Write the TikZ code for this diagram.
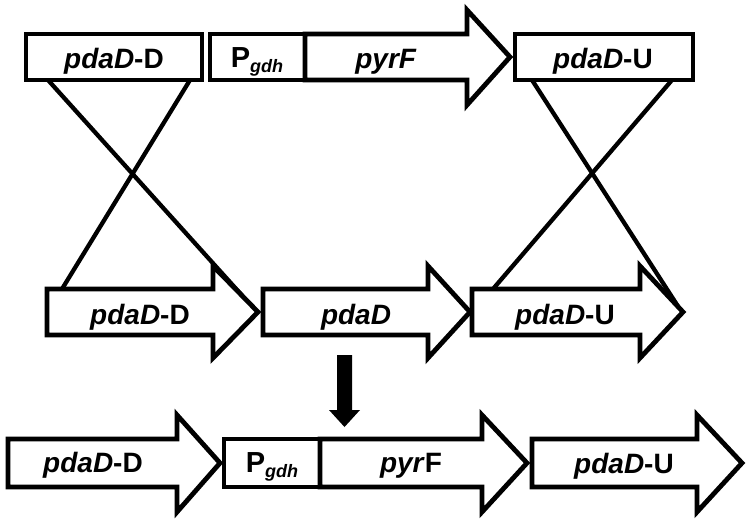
\documentclass[tikz,border=0pt]{standalone}
\usepackage{fontspec}
\setmainfont{Liberation Sans}
\begin{document}
\begin{tikzpicture}[x=1pt,y=-1pt,
  gene/.style={draw=black, line width=4.8pt, line join=miter, miter limit=10, fill=white},
  cross/.style={draw=black, line width=4.3pt},
  lbl/.style={font=\fontsize{28}{30}\selectfont\bfseries, inner sep=0pt, anchor=base},
  plbl/.style={font=\fontsize{29}{30}\selectfont\bfseries, inner sep=0pt, anchor=base}]
\newcommand\gdhsub{\raisebox{-5pt}{\fontsize{18}{18}\selectfont\bfseries\itshape gdh}}
\useasboundingbox (0,0) rectangle (754,522);

% end points of the crossing lines
\coordinate (tDl) at (48,80);
\coordinate (tDr) at (190,80);
\coordinate (mDtip) at (256,311);
\coordinate (mDtop) at (62,289);
\coordinate (tUl) at (532,80);
\coordinate (tUr) at (672,80);
\coordinate (mUtip) at (681,311);
\coordinate (mUtop) at (493,289);

\draw[cross] (tDl) -- (mDtip);
\draw[cross] (tDr) -- (mDtop);
\draw[cross] (tUl) -- (mUtip);
\draw[cross] (tUr) -- (mUtop);

% top row
\draw[gene] (26,34) rectangle (202,80);
\draw[gene] (210,34) rectangle (305,80);
\draw[gene] (305,34) -- (467,34) -- (467,10) -- (510,57) -- (467,105) -- (467,80) -- (305,80) -- cycle;
\draw[gene] (515,34) rectangle (693,80);
\node[lbl] (t1) at (114,68) {\textit{pdaD}-D};
\node[plbl] (t2) at (257,67) {P\gdhsub};
\node[lbl] (t3) at (386,68) {\textit{pyrF}};
\node[lbl] (t4) at (603,68) {\textit{pdaD}-U};

% middle row
\draw[gene] (47,289) -- (213,289) -- (213,266) -- (258,312) -- (213,358) -- (213,335) -- (47,335) -- cycle;
\draw[gene] (263,289) -- (428,289) -- (428,266) -- (470,312) -- (428,358) -- (428,335) -- (263,335) -- cycle;
\draw[gene] (472,289) -- (640,289) -- (640,266) -- (683,312) -- (640,358) -- (640,335) -- (472,335) -- cycle;
\node[lbl] (m1) at (140,324) {\textit{pdaD}-D};
\node[lbl] (m2) at (356,324) {\textit{pdaD}};
\node[lbl] (m3) at (565,324) {\textit{pdaD}-U};

% down arrow
\fill[black] (337,355) -- (352,355) -- (352,410) -- (360,410) -- (344.5,427) -- (329,410) -- (337,410) -- cycle;

% bottom row
\draw[gene] (8,439) -- (177,439) -- (177,415) -- (220,463) -- (177,512) -- (177,487) -- (8,487) -- cycle;
\draw[gene] (224,439) rectangle (320,487);
\draw[gene] (320,439) -- (482,439) -- (482,415) -- (527,463) -- (482,512) -- (482,487) -- (320,487) -- cycle;
\draw[gene] (532,439) -- (697,439) -- (697,415) -- (742,463) -- (697,512) -- (697,487) -- (532,487) -- cycle;
\node[lbl] (b1) at (93,472) {\textit{pdaD}-D};
\node[plbl] (b2) at (272,472) {P\gdhsub};
\node[lbl] (b3) at (411,472) {\textit{pyr}F};
\node[lbl] (b4) at (624,473) {\textit{pdaD}-U};
\end{tikzpicture}
\end{document}
